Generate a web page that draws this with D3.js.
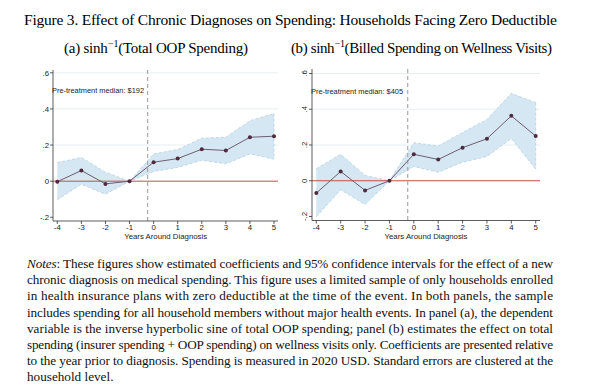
<!DOCTYPE html>
<html><head><meta charset="utf-8">
<script src="https://cdn.jsdelivr.net/npm/d3@7/dist/d3.min.js"></script>
<style>body{margin:0;background:#fff}svg{display:block}</style>
</head><body>
<svg id="c" width="600" height="391"></svg>
<script>
const years = [-4,-3,-2,-1,0,1,2,3,4,5];
const coefA = [-0.003,0.059,-0.015,0,0.105,0.125,0.177,0.170,0.243,0.249];
const upperA = [0.103,0.131,0.050,0,0.151,0.175,0.238,0.243,0.335,0.374];
const lowerA = [-0.103,-0.017,-0.072,0,0.053,0.076,0.116,0.096,0.151,0.122];
const coefB = [-0.069,0.052,-0.054,0,0.148,0.119,0.185,0.235,0.363,0.250];
const upperB = [0.067,0.148,0.030,0,0.213,0.194,0.270,0.343,0.489,0.437];
const lowerB = [-0.202,-0.050,-0.133,0,0.080,0.048,0.104,0.135,0.237,0.065];
const yTicks = [-0.2,0,0.2,0.4,0.6];
const yTickLabels = ["-.2","0",".2",".4",".6"];
const medianA = "Pre-treatment median: $192";
const medianB = "Pre-treatment median: $405";
const eventLine = -0.25;
const xTitle = "Years Around Diagnosis";
const notesLines = [
 ["These figures show estimated coefficients and 95% confidence intervals for the effect of a new", true],
 ["chronic diagnosis on medical spending.  This figure uses a limited sample of only households enrolled", true],
 ["in health insurance plans with zero deductible at the time of the event.  In both panels, the sample", true],
 ["includes spending for all household members without major health events. In panel (a), the dependent", true],
 ["variable is the inverse hyperbolic sine of total OOP spending; panel (b) estimates the effect on total", true],
 ["spending (insurer spending + OOP spending) on wellness visits only. Coefficients are presented relative", true],
 ["to the year prior to diagnosis. Spending is measured in 2020 USD. Standard errors are clustered at the", true],
 ["household level.", false]
];

const svg = d3.select("#c");
const serif = "'Liberation Serif', 'DejaVu Serif', serif";
const sans = "'Liberation Sans', Arial, sans-serif";

// Title
svg.append("text").attr("x",24).attr("y",25).attr("font-family",serif).attr("font-size",15.5)
  .attr("textLength",533).attr("lengthAdjust","spacing")
  .text("Figure 3. Effect of Chronic Diagnoses on Spending: Households Facing Zero Deductible");

function subtitle(x, w, label, rest){
  const t = svg.append("text").attr("x",x).attr("y",53).attr("font-family",serif).attr("font-size",15)
    .attr("textLength",w).attr("lengthAdjust","spacing");
  t.append("tspan").text(label+" sinh");
  t.append("tspan").attr("dy",-6).attr("dx",0.5).attr("font-size",10).text("−1");
  t.append("tspan").attr("dy",6).text("("+rest+")");
}
subtitle(64,184,"(a)","Total OOP Spending");
subtitle(291,261,"(b)","Billed Spending on Wellness Visits");

function panel(cfg){
  const x = d3.scaleLinear().domain([-4,5]).range([cfg.x0,cfg.x1]);
  const y = d3.scaleLinear().domain([-0.2,0.6]).range([cfg.yb,cfg.yt]);
  const g = svg.append("g");
  const left = cfg.axisX, right = cfg.right, bottom = cfg.axisY, top = cfg.top;
  // gridlines
  g.selectAll("line.grid").data(yTicks.filter(v=>v>0)).enter().append("line")
    .attr("x1",left).attr("x2",right).attr("y1",d=>y(d)).attr("y2",d=>y(d))
    .attr("stroke","#e6eef3").attr("stroke-width",1);
  // CI band
  const idx = d3.range(years.length);
  g.append("path").datum(idx)
    .attr("d", d3.area().x(i=>x(years[i])).y0(i=>y(cfg.lower[i])).y1(i=>y(cfg.upper[i])))
    .attr("fill","#d5e7f2").attr("stroke","none");
  [cfg.upper,cfg.lower].forEach(arr=>{
    g.append("path").datum(idx).attr("d", d3.line().x(i=>x(years[i])).y(i=>y(arr[i])))
      .attr("fill","none").attr("stroke","#b4d0e4").attr("stroke-width",0.8).attr("stroke-dasharray","3,2");
  });
  g.append("line").attr("x1",x(5)).attr("x2",x(5)).attr("y1",y(cfg.upper[9])).attr("y2",y(cfg.lower[9]))
    .attr("stroke","#b4d0e4").attr("stroke-width",0.8).attr("stroke-dasharray","3,2");
  // zero line
  g.append("line").attr("x1",left).attr("x2",right).attr("y1",y(0)).attr("y2",y(0))
    .attr("stroke","#c0504d").attr("stroke-width",1);
  // event line
  g.append("line").attr("x1",x(eventLine)).attr("x2",x(eventLine)).attr("y1",top).attr("y2",bottom)
    .attr("stroke","#a9a9a9").attr("stroke-width",1.2).attr("stroke-dasharray","4,3");
  // coefficient line
  g.append("path").datum(idx).attr("d", d3.line().x(i=>x(years[i])).y(i=>y(cfg.coef[i])))
    .attr("fill","none").attr("stroke","#6e5d70").attr("stroke-width",1);
  g.selectAll("circle.pt").data(idx).enter().append("circle")
    .attr("cx",i=>x(years[i])).attr("cy",i=>y(cfg.coef[i])).attr("r",2)
    .attr("fill","#4d2a3d");
  // axes
  g.append("line").attr("x1",left).attr("x2",left).attr("y1",top).attr("y2",bottom).attr("stroke","#333").attr("stroke-width",0.8);
  g.append("line").attr("x1",left).attr("x2",right).attr("y1",bottom).attr("y2",bottom).attr("stroke","#333").attr("stroke-width",0.8);
  yTicks.forEach((v,k)=>{
    g.append("line").attr("x1",left-3).attr("x2",left).attr("y1",y(v)).attr("y2",y(v)).attr("stroke","#333").attr("stroke-width",0.8);
    if(cfg.rotate){
      g.append("text").attr("transform",`translate(${left-5},${y(v)}) rotate(-90)`)
        .attr("text-anchor","middle").attr("font-family",sans).attr("font-size",7.8).attr("fill","#222")
        .text(yTickLabels[k]);
    } else {
      g.append("text").attr("x",left-4).attr("y",y(v)+2.7).attr("text-anchor","end")
        .attr("font-family",sans).attr("font-size",7.8).attr("fill","#222").text(yTickLabels[k]);
    }
  });
  years.forEach(v=>{
    g.append("line").attr("x1",x(v)).attr("x2",x(v)).attr("y1",bottom).attr("y2",bottom+3).attr("stroke","#333").attr("stroke-width",0.8);
    g.append("text").attr("x",x(v)).attr("y",bottom+9).attr("text-anchor","middle")
      .attr("font-family",sans).attr("font-size",7.8).attr("fill","#222").text(v);
  });
  g.append("text").attr("x",(x(-4)+x(5))/2).attr("y",bottom+18.3).attr("text-anchor","middle")
    .attr("font-family",sans).attr("font-size",7.8).attr("fill","#222").text(xTitle);
  g.append("text").attr("x",cfg.medX).attr("y",y(0.5)+2.5).attr("font-family",sans).attr("font-size",7.4)
    .attr("fill","#222").text(cfg.median);
}

panel({x0:57.3,x1:274,yb:217.3,yt:72.8,axisX:53,right:278,axisY:221,top:70,
  coef:coefA,upper:upperA,lower:lowerA,median:medianA,medX:52,rotate:false});
panel({x0:316.3,x1:535.7,yb:216.5,yt:73.5,axisX:312,right:540,axisY:220.5,top:69,
  coef:coefB,upper:upperB,lower:lowerB,median:medianB,medX:311,rotate:true});

// Notes
const lh = 16.2, ny0 = 268;
notesLines.forEach((ln,i)=>{
  const t = svg.append("text").attr("y",ny0+i*lh).attr("font-family",serif).attr("font-size",13.2).attr("fill","#111");
  if(i===0){
    t.attr("x",27);
    t.append("tspan").attr("font-style","italic").text("Notes");
    t.append("tspan").text(": "+ln[0]);
  } else {
    t.attr("x",27).text(ln[0]);
  }
  if(ln[1]) t.attr("textLength",526).attr("lengthAdjust","spacing");
});
</script>
</body></html>
